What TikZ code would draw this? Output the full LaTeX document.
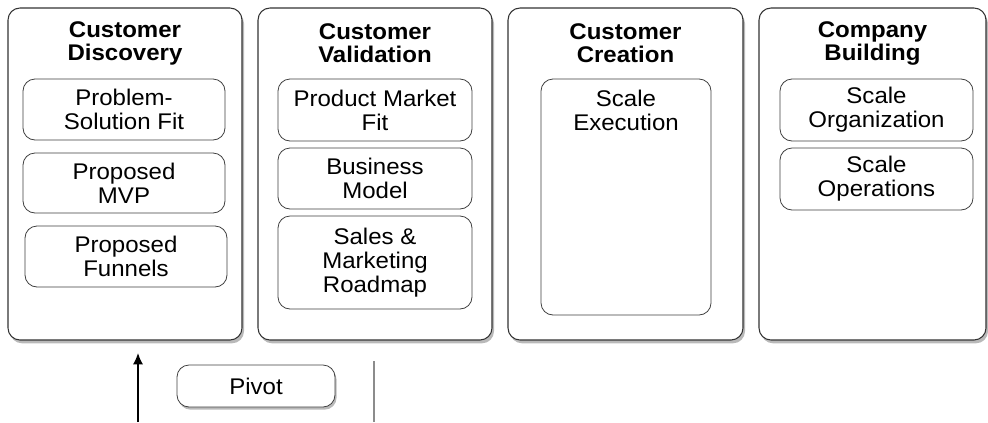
\documentclass[tikz,border=0pt]{standalone}
\usepackage{fontspec}
\setmainfont{Liberation Sans}[FakeStretch=1.06]
\usetikzlibrary{shadows,arrows.meta}
\tikzset{
 stage/.style={draw=black!80, line width=0.8pt, rounded corners=9pt, fill=white,
   drop shadow={shadow xshift=1.5pt, shadow yshift=-2.5pt, opacity=0.55},
   minimum height=249pt, inner sep=0pt},
 sub/.style={draw=black!75, line width=0.6pt, rounded corners=9pt, fill=white,
   align=center, font=\fontsize{17}{18}\selectfont, inner sep=0pt},
 subtext/.style={align=center, font=\fontsize{17}{18}\selectfont, inner sep=0pt},
 title/.style={font=\bfseries\fontsize{17}{17.5}\selectfont, align=center, inner sep=0pt},
}
\begin{document}
\begin{tikzpicture}[x=0.75pt,y=-0.75pt]
\useasboundingbox (0,0) rectangle (988,422);
% stages
\node[stage, minimum width=175.5pt] (b1) at (125,174) {};
\node[stage, minimum width=175.5pt] (b2) at (375,174) {};
\node[stage, minimum width=176.25pt] (b3) at (625.5,174) {};
\node[stage, minimum width=170.25pt] (b4) at (872.5,174) {};
% titles
\node[title] (t1) at (125,43.5) {Customer\\Discovery};
\node[title] (t2) at (375,43.5) {Customer\\Validation};
\node[title] (t3) at (625.5,43.5) {Customer\\Creation};
\node[title] (t4) at (872.5,43.5) {Company\\Building};
% discovery
\node[sub, minimum width=151.5pt, minimum height=45.75pt] (p1) at (124,109.5) {Problem-\\Solution Fit};
\node[sub, minimum width=151.5pt, minimum height=45pt] (p2) at (124,183) {Proposed\\MVP};
\node[sub, minimum width=151.5pt, minimum height=45.75pt] (p3) at (126,256.5) {Proposed\\Funnels};
% validation
\node[sub, minimum width=145.5pt, minimum height=46.5pt] (v1) at (375,110) {Product Market\\Fit};
\node[sub, minimum width=145.5pt, minimum height=45.75pt] (v2) at (375,178.5) {Business\\Model};
\node[sub, minimum width=145.5pt, minimum height=69.75pt] (v3) at (375,262.5) {Sales \&\\Marketing\\Roadmap};
% creation
\node[sub, minimum width=127.5pt, minimum height=177pt] (c1) at (626,197) {};
\node[subtext, anchor=north] (c1t) at (626,90) {Scale\\Execution};
% company building
\node[sub, minimum width=144.75pt, minimum height=46.5pt] (o1) at (876.5,110) {Scale\\Organization};
\node[sub, minimum width=144.75pt, minimum height=46.5pt] (o2) at (876.5,179) {Scale\\Operations};
% bottom
\node[sub, minimum width=118.5pt, minimum height=31.5pt,
  drop shadow={shadow xshift=1.2pt, shadow yshift=-2pt, opacity=0.55}] (pv) at (256,386) {Pivot};
\coordinate (a0) at (138,422);
\coordinate (a1) at (138,353);
\draw[line width=1pt, -{Latex[length=8.5pt,width=7.5pt]}] (a0) -- (a1);
\coordinate (g0) at (374,361);
\coordinate (g1) at (374,422);
\draw[line width=1pt, black!45] (g0) -- (g1);
\end{tikzpicture}
\end{document}
